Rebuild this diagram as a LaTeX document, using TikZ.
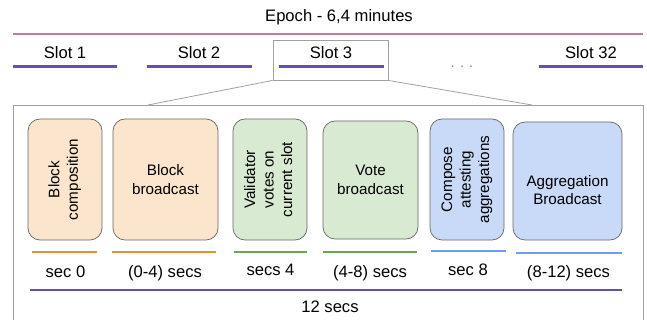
\documentclass[tikz,border=0pt]{standalone}
\usepackage{fontspec}
\setmainfont{Liberation Sans}
\usetikzlibrary{positioning,calc}

\definecolor{epochpink}{HTML}{C27BA0}
\definecolor{slotpurple}{HTML}{674EA7}
\definecolor{barorange}{HTML}{E69138}
\definecolor{bargreen}{HTML}{6AA84F}
\definecolor{barblue}{HTML}{6D9EEB}
\definecolor{fillorange}{HTML}{FCE5CD}
\definecolor{fillgreen}{HTML}{D9EAD3}
\definecolor{fillblue}{HTML}{C9DAF8}
\definecolor{boxgray}{HTML}{666666}
\definecolor{framegray}{HTML}{A0A0A0}

\newcommand{\vtext}[1]{\rotatebox{90}{\begin{tabular}{@{}c@{}}#1\end{tabular}}}

\begin{document}
\begin{tikzpicture}[
  x=1pt, y=-1pt,
  font=\fontsize{16.6}{19.8}\selectfont,
  label/.style={anchor=base, inner sep=0pt},
  phase/.style={draw=boxgray, line width=0.7pt, rounded corners=12pt,
                inner sep=0pt, align=center,
                font=\fontsize{15.2}{18.5}\selectfont},
  frame/.style={draw=framegray, line width=0.9pt},
  bar/.style={line width=2.6pt},
]
  \useasboundingbox (0,0) rectangle (647,320);

  % epoch
  \node[label] (epoch) at (339,22) {Epoch - 6,4 minutes};
  \draw[epochpink, line width=2.2pt] (13,34) -- (643,34);

  % slots
  \node[frame, minimum width=115pt, minimum height=40pt, inner sep=0pt]
    (slotframe) at (330.5,60) {};
  \node[label] (slot1)  at (65,59)  {Slot 1};
  \node[label] (slot2)  at (199,59) {Slot 2};
  \node[label] (slot3)  at (331,59) {Slot 3};
  \node[label] (slot32) at (591,59) {Slot 32};
  \node[label, text=gray, font=\fontsize{14}{16}\selectfont]
    (dots) at (462,68) {. . .};
  \draw[bar, slotpurple] (13,66.5)  -- (117,66.5);
  \draw[bar, slotpurple] (147,66.5) -- (252,66.5);
  \draw[bar, slotpurple] (279,66.5) -- (384,66.5);
  \draw[bar, slotpurple] (539,66.5) -- (643,66.5);

  % zoom into slot 3
  \coordinate (zoomL) at (148,105);
  \coordinate (zoomR) at (532,105);
  \draw[frame] (13,330) -- (13,105) -- (643,105) -- (643,330);
  \draw[framegray, line width=0.8pt] (slotframe.south west) -- (zoomL);
  \draw[framegray, line width=0.8pt] (slotframe.south east) -- (zoomR);

  % phases of a slot
  \node[phase, fill=fillorange, minimum width=74pt, minimum height=121pt]
    (compose) at (65,179.5) {\vtext{Block\\composition}};
  \node[phase, fill=fillorange, minimum width=105pt, minimum height=121pt]
    (bcast) at (165.5,179.5) {Block\\broadcast};
  \node[phase, fill=fillgreen, minimum width=74pt, minimum height=121pt]
    (votes) at (270,179.5) {\vtext{Validator\\votes on\\current slot}};
  \node[phase, fill=fillgreen, minimum width=95pt, minimum height=118pt]
    (votebcast) at (370.5,180) {Vote\\broadcast};
  \node[phase, fill=fillblue, minimum width=74pt, minimum height=121pt]
    (attest) at (467,179.5) {\vtext{Compose\\attesting\\aggregations}};
  \node[phase, fill=fillblue, minimum width=109pt, minimum height=118pt]
    (aggbcast) at (567.5,181) {};
  \node[align=center, inner sep=0pt, font=\fontsize{15.2}{18.5}\selectfont]
    (aggtext) at ([yshift=-9pt]aggbcast.center) {Aggregation\\Broadcast};

  % timing bars
  \draw[bar, barorange] (32,252)  -- (97,252);
  \draw[bar, barorange] (112,252) -- (216,252);
  \draw[bar, bargreen]  (234,252) -- (307,252);
  \draw[bar, bargreen]  (323,252) -- (417,252);
  \draw[bar, barblue]   (431,251) -- (506,251);
  \draw[bar, barblue]   (516,253) -- (622,253);

  \node[label] (t0)    at (65.5,277)  {sec 0};
  \node[label] (t04)   at (165,277)   {(0-4) secs};
  \node[label] (t4)    at (270.5,275) {secs 4};
  \node[label] (t48)   at (370,277)   {(4-8) secs};
  \node[label] (t8)    at (468,275)   {sec 8};
  \node[label] (t812)  at (568.5,277) {(8-12) secs};

  \draw[bar, slotpurple] (30,290) -- (622,290);
  \node[label] (total) at (330,312) {12 secs};
\end{tikzpicture}
\end{document}
